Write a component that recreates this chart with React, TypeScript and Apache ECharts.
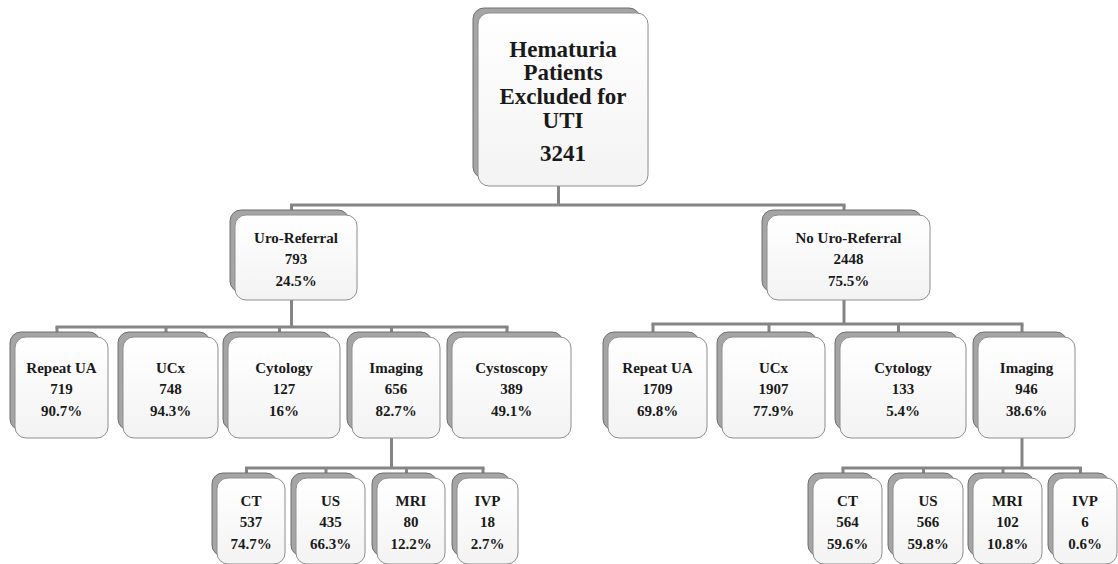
import React, { useEffect, useRef } from "react";
import * as echarts from "echarts";

// ---- data ----
const rootLines = ["Hematuria", "Patients", "Excluded for", "UTI"];
const rootCount = 3241;

const groupNames = ["Uro-Referral", "No Uro-Referral"];
const groupCounts = [793, 2448];
const groupPcts = ["24.5%", "75.5%"];

const uroTestNames = ["Repeat UA", "UCx", "Cytology", "Imaging", "Cystoscopy"];
const uroTestCounts = [719, 748, 127, 656, 389];
const uroTestPcts = ["90.7%", "94.3%", "16%", "82.7%", "49.1%"];

const noUroTestNames = ["Repeat UA", "UCx", "Cytology", "Imaging"];
const noUroTestCounts = [1709, 1907, 133, 946];
const noUroTestPcts = ["69.8%", "77.9%", "5.4%", "38.6%"];

const imagingNames = ["CT", "US", "MRI", "IVP"];
const uroImagingCounts = [537, 435, 80, 18];
const uroImagingPcts = ["74.7%", "66.3%", "12.2%", "2.7%"];
const noUroImagingCounts = [564, 566, 102, 6];
const noUroImagingPcts = ["59.6%", "59.8%", "10.8%", "0.6%"];

// ---- layout (box outer bounds: [x0, x1]) ----
const rootBox = { x0: 473, x1: 648, y0: 8, y1: 186 };
const groupBoxX = [
  [230, 357],
  [762, 930],
];
const groupY = [210, 300];
const uroTestX = [
  [10, 108],
  [118, 218],
  [223, 340],
  [347, 440],
  [447, 571],
];
const noUroTestX = [
  [603, 707],
  [717, 825],
  [835, 966],
  [973, 1075],
];
const testY = [332, 438];
const uroImgX = [
  [212, 285],
  [291, 365],
  [372, 445],
  [452, 518],
];
const noUroImgX = [
  [808, 882],
  [888, 963],
  [968, 1042],
  [1048, 1117],
];
const imgY = [473, 564];

const FONT = "Liberation Serif";
const LINE = "#858585";

function boxEls(x0: number, y0: number, x1: number, y1: number) {
  const fill = new echarts.graphic.LinearGradient(0, 0, 0, 1, [
    { offset: 0, color: "#ffffff" },
    { offset: 1, color: "#f3f3f3" },
  ]);
  return [
    {
      type: "rect",
      shape: { x: x0, y: y0, width: x1 - x0 - 8, height: y1 - y0 - 8, r: 11 },
      style: { fill: "#a5a5a5", stroke: "#6e6e6e", lineWidth: 1 },
    },
    {
      type: "rect",
      shape: { x: x0 + 5, y: y0 + 5, width: x1 - x0 - 5, height: y1 - y0 - 5, r: 11 },
      style: { fill, stroke: "#8e8e8e", lineWidth: 1 },
    },
  ];
}

function textEl(text: string, x: number, y: number, size: number) {
  return {
    type: "text",
    style: {
      text,
      x,
      y,
      textAlign: "center",
      textVerticalAlign: "middle",
      fontFamily: FONT,
      fontWeight: "bold",
      fontSize: size,
      fill: "#1a1a1a",
    },
  };
}

function nodeEls(x0: number, y0: number, x1: number, y1: number, lines: string[]) {
  const cx = (x0 + 5 + x1) / 2;
  const cy = (y0 + 5 + Math.min(y1, 563)) / 2;
  const els: any[] = boxEls(x0, y0, x1, y1);
  lines.forEach((t, i) => els.push(textEl(t, cx, cy + (i - 1) * 21.5 + 1.5, 15)));
  return els;
}

function line(x1: number, y1: number, x2: number, y2: number) {
  return {
    type: "line",
    shape: { x1, y1, x2, y2 },
    style: { stroke: LINE, lineWidth: 3 },
  };
}

const drop = (r: number[]) => (r[0] + r[1]) / 2 - 2;

function connector(parentX: number, parentBottom: number, barY: number, children: number[][], childTop: number) {
  const xs = children.map(drop);
  const els: any[] = [];
  els.push(line(parentX, parentBottom - 4, parentX, barY));
  els.push(line(Math.min(...xs, parentX) - 1.5, barY, Math.max(...xs, parentX) + 1.5, barY));
  xs.forEach((x) => els.push(line(x, barY, x, childTop + 3)));
  return els;
}

export default function App() {
  const ref = useRef<HTMLDivElement>(null);
  useEffect(() => {
    if (!ref.current) return;
    const chart = echarts.init(ref.current, undefined, { renderer: "svg" });
    const g: any[] = [];
    const rootDrop = drop([rootBox.x0, rootBox.x1]);

    // connectors (drawn first, boxes cover the ends)
    g.push(...connector(rootDrop, rootBox.y1, 205, groupBoxX, groupY[0]));
    g.push(...connector(drop(groupBoxX[0]), groupY[1], 327, uroTestX, testY[0]));
    g.push(...connector(drop(groupBoxX[1]), groupY[1], 324, noUroTestX, testY[0]));
    g.push(...connector(drop(uroTestX[3]), testY[1], 468, uroImgX, imgY[0]));
    g.push(...connector(drop(noUroTestX[3]), testY[1], 468, noUroImgX, imgY[0]));

    // root
    g.push(...boxEls(rootBox.x0, rootBox.y0, rootBox.x1, rootBox.y1));
    const rcx = (rootBox.x0 + 5 + rootBox.x1) / 2;
    rootLines.forEach((t, i) => g.push(textEl(t, rcx, 49 + i * 23.7, 23)));
    g.push(textEl(String(rootCount), rcx, 153, 23));

    // groups
    groupNames.forEach((n, i) =>
      g.push(...nodeEls(groupBoxX[i][0], groupY[0], groupBoxX[i][1], groupY[1], [n, String(groupCounts[i]), groupPcts[i]]))
    );
    uroTestNames.forEach((n, i) =>
      g.push(...nodeEls(uroTestX[i][0], testY[0], uroTestX[i][1], testY[1], [n, String(uroTestCounts[i]), uroTestPcts[i]]))
    );
    noUroTestNames.forEach((n, i) =>
      g.push(...nodeEls(noUroTestX[i][0], testY[0], noUroTestX[i][1], testY[1], [n, String(noUroTestCounts[i]), noUroTestPcts[i]]))
    );
    imagingNames.forEach((n, i) =>
      g.push(...nodeEls(uroImgX[i][0], imgY[0], uroImgX[i][1], imgY[1], [n, String(uroImagingCounts[i]), uroImagingPcts[i]]))
    );
    imagingNames.forEach((n, i) =>
      g.push(...nodeEls(noUroImgX[i][0], imgY[0], noUroImgX[i][1], imgY[1], [n, String(noUroImagingCounts[i]), noUroImagingPcts[i]]))
    );

    chart.setOption({
      animation: false,
      backgroundColor: "#ffffff",
      graphic: { elements: g },
      series: [],
    });
    return () => chart.dispose();
  }, []);
  return (
    <div
      ref={ref}
      style={{ position: "fixed", left: 0, top: 0, width: 1118, height: 564, background: "#fff" }}
    />
  );
}
